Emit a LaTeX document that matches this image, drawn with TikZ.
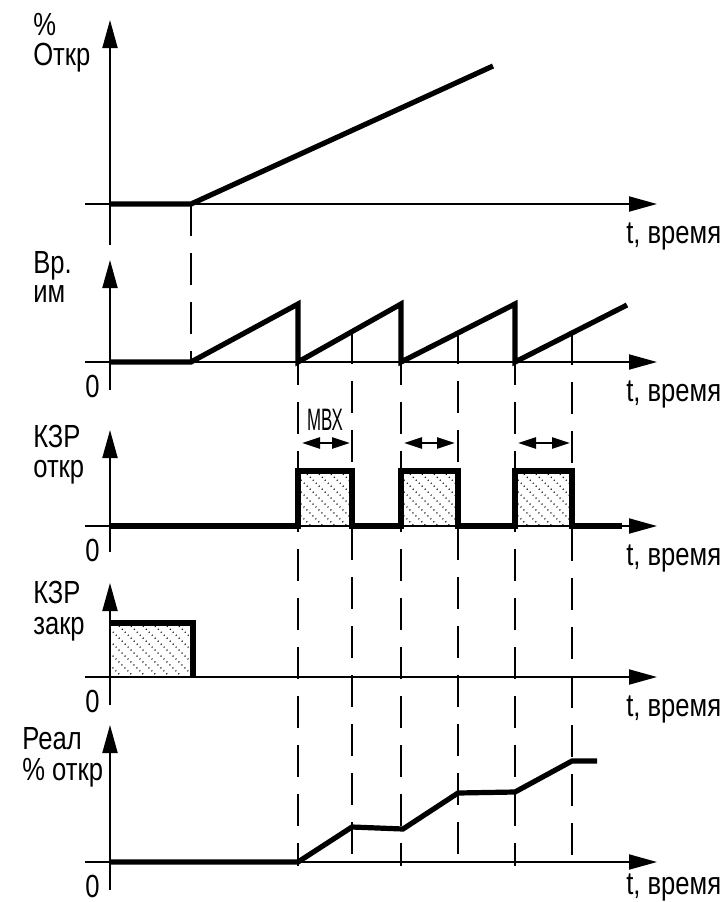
\documentclass[tikz,border=0pt]{standalone}
\usepackage{fontspec}
\setmainfont{Liberation Sans}
\usetikzlibrary{arrows.meta}

\tikzset{
  axis/.style={line width=1pt,-{Triangle[length=14pt,width=7.5pt]}},
  sig/.style={line width=2.6pt,line join=miter},
  guide/.style={line width=1.2pt,dash pattern=on 16pt off 8.5pt},
  hatch/.style={line width=0.6pt,dash pattern=on 0.5pt off 1.6pt},
  lbl/.style={font=\fontsize{16}{16}\selectfont,inner sep=0pt,xscale=0.8,transform shape,anchor=base west},
  zero/.style={lbl,anchor=base east},
  dim/.style={line width=1.2pt,{Triangle[length=9pt,width=5.5pt]}-{Triangle[length=9pt,width=5.5pt]}}
}

\begin{document}
\begin{tikzpicture}[x=0.5pt,y=-0.5pt]
  \useasboundingbox (0,0) rectangle (727,902);

  % hatched areas
  \foreach \xa/\ya/\xb/\yb in {298/471/352/526, 401/471/458/526, 515/471/572/526, 110/623/193/677} {
    \begin{scope}
      \clip (\xa,\ya) rectangle (\xb,\yb);
      \foreach \k in {-66,-54,...,90} \draw[hatch] (\xa+\k,\ya) -- ++(70,70);
    \end{scope}
  }

  % axes
  \foreach \ay/\ty/\by in {204/20/245, 362/260/390, 526/430/552, 677/583/705, 862/725/890} {
    \draw[axis] (110,\by) -- (110,\ty);
    \draw[axis] (85,\ay) -- (657,\ay);
  }
  \foreach \ay in {204,362,526,677}
    \node[lbl] (time\ay) at (626,\ay+39) {t, время};
  \node[lbl] (time862) at (626,894) {t, время};
  \foreach \ay in {362,526,677,862}
    \node[zero] (zero\ay) at (100,\ay+35) {0};

  % guides
  \draw[guide] (191,204) -- (191,362);
  \foreach \x in {298,401,515} \draw[guide] (\x,304) -- (\x,866);
  \foreach \x/\y in {352/332,458/332,572/333} \draw[guide] (\x,\y) -- (\x,866);

  % signals
  \draw[sig] (110,204) -- (191,204) -- (493,66);
  \draw[sig] (110,362) -- (191,362) -- (298,304) -- (298,362) -- (401,304) -- (401,362)
    -- (515,304) -- (515,362) -- (627,305);
  \draw[sig] (110,526) -- (298,526) -- (298,471) -- (352,471) -- (352,526) -- (401,526)
    -- (401,471) -- (458,471) -- (458,526) -- (515,526) -- (515,471) -- (572,471)
    -- (572,526) -- (622,526);
  \draw[sig] (110,623) -- (193,623) -- (193,677);
  \draw[sig] (110,862) -- (298,862) -- (352,827) -- (403,829) -- (458,793) -- (515,792)
    -- (572,761) -- (597,761);

  % MBX
  \draw[dim] (302,443) -- (350,443);
  \draw[dim] (404,443) -- (455,443);
  \draw[dim] (518,443) -- (570,443);
  \node[lbl,font=\fontsize{15.5}{15.5}\selectfont,xscale=0.68,anchor=base] (mvx) at (325,430) {МВХ};

  % axis names
  \node[lbl] (pct) at (33,35) {\%};
  \node[lbl] (otkr) at (33,65) {Откр};
  \node[lbl] (vr) at (33,273) {Вр.};
  \node[lbl] (im) at (33,302) {им};
  \node[lbl] (kzra) at (33,447) {КЗР};
  \node[lbl] (otkra) at (33,477) {откр};
  \node[lbl] (kzrb) at (33,603) {КЗР};
  \node[lbl] (zakr) at (33,634) {закр};
  \node[lbl] (real) at (22,749) {Реал};
  \node[lbl] (realpct) at (22,780) {\% откр};
\end{tikzpicture}
\end{document}
